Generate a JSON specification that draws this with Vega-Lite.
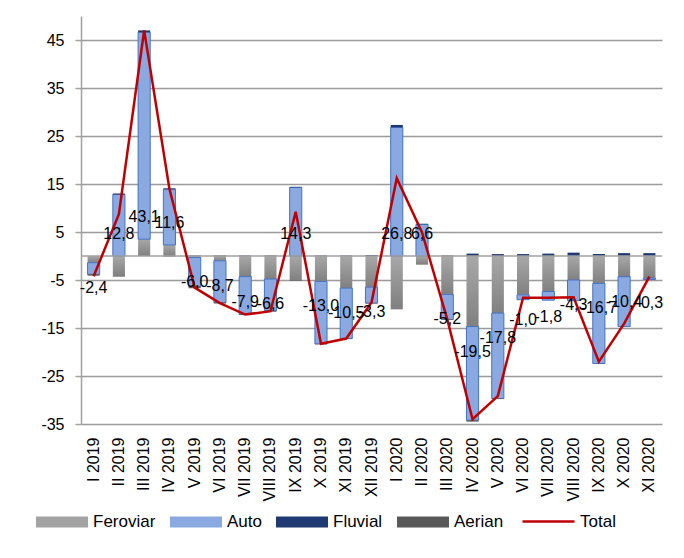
{
  "$schema": "https://vega.github.io/schema/vega-lite/v6.json",
  "width": 581,
  "height": 408,
  "autosize": {"type": "none"},
  "padding": {"left": 81, "top": 16, "right": 22, "bottom": 134},
  "background": "white",
  "config": {
    "font": "Liberation Sans",
    "view": {"stroke": null},
    "locale": {"number": {"decimal": ",", "thousands": ".", "grouping": [3], "currency": ["", ""], "minus": "-"}}
  },
  "data": {"values": [
    {"m": "I 2019", "s": "Feroviar", "v": -1.4}, {"m": "I 2019", "s": "Auto", "v": -2.4}, {"m": "I 2019", "s": "Fluvial", "v": 0.0}, {"m": "I 2019", "s": "Aerian", "v": -0.3}, {"m": "I 2019", "s": "Total", "v": -4.2},
    {"m": "II 2019", "s": "Feroviar", "v": -4.2}, {"m": "II 2019", "s": "Auto", "v": 12.8}, {"m": "II 2019", "s": "Fluvial", "v": 0.2}, {"m": "II 2019", "s": "Aerian", "v": -0.1}, {"m": "II 2019", "s": "Total", "v": 8.7},
    {"m": "III 2019", "s": "Feroviar", "v": 3.5}, {"m": "III 2019", "s": "Auto", "v": 43.1}, {"m": "III 2019", "s": "Fluvial", "v": 0.4}, {"m": "III 2019", "s": "Aerian", "v": 0.0}, {"m": "III 2019", "s": "Total", "v": 47.0},
    {"m": "IV 2019", "s": "Feroviar", "v": 2.3}, {"m": "IV 2019", "s": "Auto", "v": 11.6}, {"m": "IV 2019", "s": "Fluvial", "v": 0.2}, {"m": "IV 2019", "s": "Aerian", "v": -0.1}, {"m": "IV 2019", "s": "Total", "v": 14.0},
    {"m": "V 2019", "s": "Feroviar", "v": -0.3}, {"m": "V 2019", "s": "Auto", "v": -6.0}, {"m": "V 2019", "s": "Fluvial", "v": 0.1}, {"m": "V 2019", "s": "Aerian", "v": -0.4}, {"m": "V 2019", "s": "Total", "v": -6.6},
    {"m": "VI 2019", "s": "Feroviar", "v": -1.0}, {"m": "VI 2019", "s": "Auto", "v": -8.7}, {"m": "VI 2019", "s": "Fluvial", "v": 0.1}, {"m": "VI 2019", "s": "Aerian", "v": -0.2}, {"m": "VI 2019", "s": "Total", "v": -9.8},
    {"m": "VII 2019", "s": "Feroviar", "v": -4.3}, {"m": "VII 2019", "s": "Auto", "v": -7.9}, {"m": "VII 2019", "s": "Fluvial", "v": 0.1}, {"m": "VII 2019", "s": "Aerian", "v": -0.1}, {"m": "VII 2019", "s": "Total", "v": -12.2},
    {"m": "VIII 2019", "s": "Feroviar", "v": -4.8}, {"m": "VIII 2019", "s": "Auto", "v": -6.6}, {"m": "VIII 2019", "s": "Fluvial", "v": 0.1}, {"m": "VIII 2019", "s": "Aerian", "v": -0.2}, {"m": "VIII 2019", "s": "Total", "v": -11.5},
    {"m": "IX 2019", "s": "Feroviar", "v": -5.1}, {"m": "IX 2019", "s": "Auto", "v": 14.3}, {"m": "IX 2019", "s": "Fluvial", "v": 0.1}, {"m": "IX 2019", "s": "Aerian", "v": -0.1}, {"m": "IX 2019", "s": "Total", "v": 9.2},
    {"m": "X 2019", "s": "Feroviar", "v": -5.3}, {"m": "X 2019", "s": "Auto", "v": -13.0}, {"m": "X 2019", "s": "Fluvial", "v": 0.1}, {"m": "X 2019", "s": "Aerian", "v": -0.1}, {"m": "X 2019", "s": "Total", "v": -18.3},
    {"m": "XI 2019", "s": "Feroviar", "v": -6.7}, {"m": "XI 2019", "s": "Auto", "v": -10.5}, {"m": "XI 2019", "s": "Fluvial", "v": 0.1}, {"m": "XI 2019", "s": "Aerian", "v": -0.1}, {"m": "XI 2019", "s": "Total", "v": -17.2},
    {"m": "XII 2019", "s": "Feroviar", "v": -6.5}, {"m": "XII 2019", "s": "Auto", "v": -3.3}, {"m": "XII 2019", "s": "Fluvial", "v": 0.2}, {"m": "XII 2019", "s": "Aerian", "v": -0.1}, {"m": "XII 2019", "s": "Total", "v": -9.7},
    {"m": "I 2020", "s": "Feroviar", "v": -10.9}, {"m": "I 2020", "s": "Auto", "v": 26.8}, {"m": "I 2020", "s": "Fluvial", "v": 0.5}, {"m": "I 2020", "s": "Aerian", "v": -0.2}, {"m": "I 2020", "s": "Total", "v": 16.2},
    {"m": "II 2020", "s": "Feroviar", "v": -1.7}, {"m": "II 2020", "s": "Auto", "v": 6.6}, {"m": "II 2020", "s": "Fluvial", "v": 0.1}, {"m": "II 2020", "s": "Aerian", "v": -0.1}, {"m": "II 2020", "s": "Total", "v": 4.9},
    {"m": "III 2020", "s": "Feroviar", "v": -8.0}, {"m": "III 2020", "s": "Auto", "v": -5.2}, {"m": "III 2020", "s": "Fluvial", "v": 0.1}, {"m": "III 2020", "s": "Aerian", "v": -0.1}, {"m": "III 2020", "s": "Total", "v": -13.2},
    {"m": "IV 2020", "s": "Feroviar", "v": -14.7}, {"m": "IV 2020", "s": "Auto", "v": -19.5}, {"m": "IV 2020", "s": "Fluvial", "v": 0.5}, {"m": "IV 2020", "s": "Aerian", "v": -0.3}, {"m": "IV 2020", "s": "Total", "v": -34.0},
    {"m": "V 2020", "s": "Feroviar", "v": -11.9}, {"m": "V 2020", "s": "Auto", "v": -17.8}, {"m": "V 2020", "s": "Fluvial", "v": 0.4}, {"m": "V 2020", "s": "Aerian", "v": -0.1}, {"m": "V 2020", "s": "Total", "v": -29.2},
    {"m": "VI 2020", "s": "Feroviar", "v": -8.1}, {"m": "VI 2020", "s": "Auto", "v": -1.0}, {"m": "VI 2020", "s": "Fluvial", "v": 0.4}, {"m": "VI 2020", "s": "Aerian", "v": 0.0}, {"m": "VI 2020", "s": "Total", "v": -8.7},
    {"m": "VII 2020", "s": "Feroviar", "v": -7.4}, {"m": "VII 2020", "s": "Auto", "v": -1.8}, {"m": "VII 2020", "s": "Fluvial", "v": 0.5}, {"m": "VII 2020", "s": "Aerian", "v": 0.0}, {"m": "VII 2020", "s": "Total", "v": -8.7},
    {"m": "VIII 2020", "s": "Feroviar", "v": -5.0}, {"m": "VIII 2020", "s": "Auto", "v": -4.3}, {"m": "VIII 2020", "s": "Fluvial", "v": 0.7}, {"m": "VIII 2020", "s": "Aerian", "v": 0.0}, {"m": "VIII 2020", "s": "Total", "v": -8.6},
    {"m": "IX 2020", "s": "Feroviar", "v": -5.7}, {"m": "IX 2020", "s": "Auto", "v": -16.7}, {"m": "IX 2020", "s": "Fluvial", "v": 0.4}, {"m": "IX 2020", "s": "Aerian", "v": 0.0}, {"m": "IX 2020", "s": "Total", "v": -22.0},
    {"m": "X 2020", "s": "Feroviar", "v": -4.3}, {"m": "X 2020", "s": "Auto", "v": -10.4}, {"m": "X 2020", "s": "Fluvial", "v": 0.6}, {"m": "X 2020", "s": "Aerian", "v": 0.0}, {"m": "X 2020", "s": "Total", "v": -14.1},
    {"m": "XI 2020", "s": "Feroviar", "v": -4.6}, {"m": "XI 2020", "s": "Auto", "v": -0.3}, {"m": "XI 2020", "s": "Fluvial", "v": 0.6}, {"m": "XI 2020", "s": "Aerian", "v": 0.0}, {"m": "XI 2020", "s": "Total", "v": -4.3}
  ]},
  "transform": [
    {"calculate": "indexof(['Feroviar','Auto','Fluvial','Aerian','Total'], datum.s)", "as": "o"}
  ],
  "resolve": {"legend": {"color": "independent", "stroke": "independent"}},
  "layer": [
    {
      "transform": [{"filter": "datum.s !== 'Total'"}],
      "mark": {"type": "bar", "strokeWidth": 1},
      "encoding": {
        "x": {"field": "m", "type": "ordinal", "sort": null, "scale": {"paddingInner": 0.52, "paddingOuter": 0.26},
              "axis": {"title": null, "labelAngle": 270, "domain": false, "ticks": false, "labelPadding": 13, "labelFontSize": 16, "labelColor": "#000000", "grid": false}},
        "y": {"field": "v", "type": "quantitative", "stack": "zero", "scale": {"domain": [-35, 50], "nice": false, "zero": false},
              "axis": {"title": null, "values": [-35, -25, -15, -5, 5, 15, 25, 35, 45], "format": "d", "grid": true, "gridColor": "#9a9a9a", "gridWidth": 1.5,
                       "domainColor": "#a0a0a0", "domainWidth": 1.5, "tickColor": "#a0a0a0", "tickSize": 6, "tickWidth": 1.5,
                       "labelFontSize": 16, "labelColor": "#000000", "labelPadding": 11}},
        "order": {"field": "o"},
        "color": {
          "field": "s", "type": "nominal",
          "scale": {"domain": ["Feroviar", "Auto", "Fluvial", "Aerian"], "range": ["#a3a3a3", "#8aa9e0", "#1f3a73", "#595959"]},
          "condition": {"test": "datum.s === 'Feroviar'", "value": {"gradient": "linear", "x1": 0, "y1": 0, "x2": 0, "y2": 1, "stops": [{"offset": 0, "color": "#a8a8a8"}, {"offset": 1, "color": "#808080"}]}},
          "legend": {
            "orient": "none", "legendX": -45, "legendY": 480, "direction": "horizontal", "title": null,
            "symbolType": "M-1,-0.21H1V0.21H-1Z",
            "symbolSize": 2704, "symbolStrokeWidth": 0, "labelFontSize": 17, "labelColor": "#000000", "labelOffset": 5, "columnPadding": 14, "padding": 0
          }
        },
        "stroke": {"condition": {"test": "datum.s === 'Auto'", "value": "#4472c4"}, "value": null}
      }
    },
    {
      "data": {"values": [{}]},
      "mark": {"type": "rule", "color": "#a0a0a0", "strokeWidth": 1.5},
      "encoding": {"y": {"datum": 0}}
    },
    {
      "transform": [{"filter": "datum.s === 'Total'"}],
      "mark": {"type": "line", "strokeWidth": 2.5},
      "encoding": {
        "x": {"field": "m", "type": "ordinal", "sort": null},
        "y": {"field": "v", "type": "quantitative"},
        "stroke": {"field": "s", "type": "nominal", "scale": {"domain": ["Total"], "range": ["#c00000"]},
                   "legend": {"orient": "none", "legendX": 440, "legendY": 478, "direction": "horizontal", "title": null,
                              "symbolType": "stroke", "symbolSize": 2704, "symbolStrokeWidth": 2.5, "labelFontSize": 17, "labelColor": "#000000", "labelOffset": 4, "padding": 0}},
        "order": {"value": null}
      }
    },
    {
      "transform": [
        {"filter": "datum.s !== 'Total'"},
        {"stack": "v", "groupby": ["m"], "sort": [{"field": "o"}], "as": ["v0", "v1"]},
        {"filter": "datum.s === 'Auto' && datum.v >= 0"}
      ],
      "mark": {"type": "text", "dy": -22, "fontSize": 16, "color": "#000000"},
      "encoding": {
        "x": {"field": "m", "type": "ordinal", "sort": null},
        "y": {"field": "v0", "type": "quantitative"},
        "text": {"field": "v", "type": "quantitative", "format": ".1f"}
      }
    },
    {
      "transform": [
        {"filter": "datum.s !== 'Total'"},
        {"stack": "v", "groupby": ["m"], "sort": [{"field": "o"}], "as": ["v0", "v1"]},
        {"filter": "datum.s === 'Auto' && datum.v < 0"}
      ],
      "mark": {"type": "text", "dy": 25, "fontSize": 16, "color": "#000000"},
      "encoding": {
        "x": {"field": "m", "type": "ordinal", "sort": null},
        "y": {"field": "v0", "type": "quantitative"},
        "text": {"field": "v", "type": "quantitative", "format": ".1f"}
      }
    }
  ]
}
